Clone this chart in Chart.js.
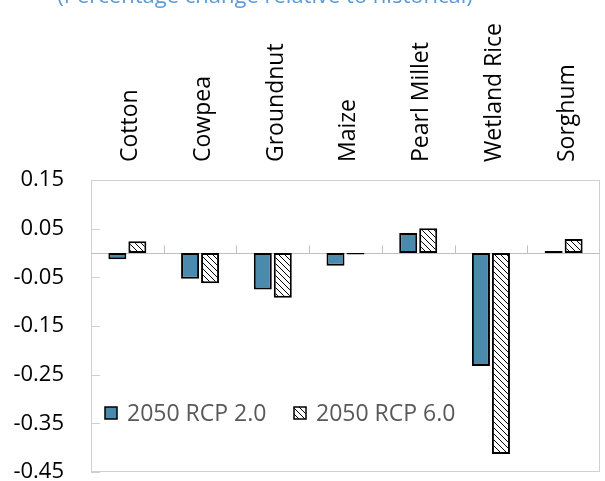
<!DOCTYPE html>
<html><head><meta charset="utf-8">
<script src="https://cdn.jsdelivr.net/npm/chart.js@4.4.1/dist/chart.umd.min.js"></script>
<style>
html,body{margin:0;padding:0;background:#fff;overflow:hidden}
#wrap{position:relative;width:605px;height:481px}
#title{position:absolute;left:0;width:530px;text-align:center;top:-17px;font-family:"Open Sans";font-size:22px;line-height:22px;color:#5b9bd5;white-space:nowrap}
canvas{position:absolute;left:0;top:0}
</style></head><body>
<div id="wrap"><canvas id="c" width="605" height="481"></canvas><div id="title">(Percentage change relative to historical)</div></div>
<script>
const categories = ["Cotton","Cowpea","Groundnut","Maize","Pearl Millet","Wetland Rice","Sorghum"];
const rcp20 = [-0.013,-0.053,-0.075,-0.026,0.041,-0.232,0.004];
const rcp60 = [0.024,-0.062,-0.092,-0.003,0.051,-0.413,0.029];
const seriesNames = ["2050 RCP 2.0","2050 RCP 6.0"];
const yTickValues = [0.15,0.05,-0.05,-0.15,-0.25,-0.35,-0.45];
const yTickLabels = ["0.15","0.05","-0.05","-0.15","-0.25","-0.35","-0.45"];

const FONT = "Open Sans";
function hatch(){
  const c=document.createElement('canvas'); c.width=6; c.height=6;
  const g=c.getContext('2d'); g.fillStyle='#fff'; g.fillRect(0,0,6,6);
  g.fillStyle='#000';
  for(let i=0;i<6;i++){ g.fillRect(i,i,1,1); }
  return g.createPattern(c,'repeat');
}
const hatchPat = hatch();
const BLUE = '#4b8aad';

const decor = {
  id:'decor',
  beforeDatasetsDraw(chart){
    const {ctx, chartArea:a, scales:{x,y}} = chart;
    ctx.save();
    ctx.strokeStyle='#d0d0d0'; ctx.lineWidth=1;
    ctx.strokeRect(a.left+0.5, a.top+0.5, a.right-a.left-1, a.bottom-a.top-1);
    const line=(x1,y1,x2,y2)=>{ctx.beginPath();ctx.moveTo(x1,y1);ctx.lineTo(x2,y2);ctx.stroke();};
    y.ticks.forEach((t,i)=>{ const py=Math.round(y.getPixelForTick(i))+0.5; line(a.left,py,a.left+9,py); });
    ctx.strokeStyle='#bfbfbf';
    const z=Math.round(y.getPixelForValue(0))+0.5;
    line(a.left,z,a.right,z);
    for(let i=1;i<categories.length;i++){
      const px=Math.round((x.getPixelForTick(i-1)+x.getPixelForTick(i))/2)+0.5;
      line(px,z-8,px,z);
    }
    ctx.restore();
  },
  afterDraw(chart){
    const {ctx, chartArea:a} = chart;
    ctx.save();
    const cy = a.bottom-59;
    const items=[{x:a.left+14, fill:BLUE},{x:a.left+203, fill:hatchPat}];
    ctx.font = '23px "'+FONT+'"';
    ctx.textBaseline='middle';
    items.forEach((it,i)=>{
      ctx.fillStyle=it.fill; ctx.fillRect(it.x, cy-6, 12, 12);
      ctx.strokeStyle='#000'; ctx.lineWidth=1.5; ctx.strokeRect(it.x, cy-6, 12, 12);
      ctx.fillStyle='#595959'; ctx.fillText(seriesNames[i], it.x+22, cy+1);
    });
    ctx.restore();
  }
};

new Chart(document.getElementById('c'), {
  type:'bar',
  data:{
    labels:categories,
    datasets:[
      {label:seriesNames[0], data:rcp20, backgroundColor:BLUE, borderColor:'#000', borderWidth:2, borderSkipped:false, categoryPercentage:0.55, barPercentage:0.9},
      {label:seriesNames[1], data:rcp60, backgroundColor:hatchPat, borderColor:'#000', borderWidth:2, borderSkipped:false, categoryPercentage:0.55, barPercentage:0.9}
    ]
  },
  options:{
    responsive:false, animation:false, devicePixelRatio:1,
    layout:{padding:{top:0,left:0,right:5,bottom:9}},
    plugins:{legend:{display:false}, tooltip:{enabled:false}, title:{display:false}},
    scales:{
      x:{type:'category', position:'top', grid:{display:false, drawTicks:false}, border:{display:false},
         ticks:{maxRotation:90, minRotation:90, autoSkip:false, padding:18, labelOffset:31, color:'#000', font:{family:FONT,size:23}},
         afterFit(s){ s.height=180; s.paddingLeft=0; s.paddingRight=0; }},
      y:{min:-0.45, max:0.15, grid:{display:false, drawTicks:false}, border:{display:false},
         afterBuildTicks(s){ s.ticks = yTickValues.map(v=>({value:v})); },
         ticks:{padding:27, color:'#000', font:{family:FONT,size:22}, callback:(v,i)=>yTickLabels[i]},
         afterFit(s){ s.width=91; s.paddingTop=0; s.paddingBottom=0; }}
    }
  },
  plugins:[decor]
});
</script>
</body></html>
